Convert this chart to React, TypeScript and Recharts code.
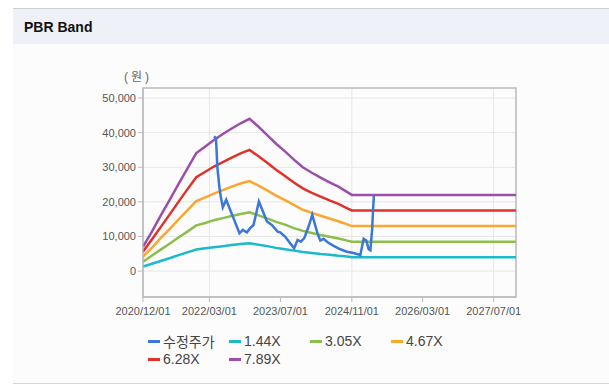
import { LineChart, Line, XAxis, YAxis, CartesianGrid, ReferenceArea } from "recharts";

// band dates (bimonthly until the BPS stops changing)
const bandDates = [
  "2020-12-01", "2021-02-01", "2021-04-01", "2021-06-01", "2021-08-01", "2021-10-01",
  "2021-12-01", "2022-02-01", "2022-04-01", "2022-06-01", "2022-08-01", "2022-10-01",
  "2022-12-01", "2023-02-01", "2023-04-01", "2023-06-01", "2023-08-01", "2023-10-01",
  "2023-12-01", "2024-02-01", "2024-04-01", "2024-06-01", "2024-08-01", "2024-10-01",
  "2024-11-01", "2027-12-01",
];

const band144 = [
  1300, 2100, 2900, 3700, 4600, 5400, 6200, 6600, 6900, 7200, 7500, 7800, 8000,
  7600, 7200, 6700, 6300, 5900, 5500, 5200, 4900, 4700, 4400, 4200, 4000, 4000,
];
const band305 = [
  2700, 4500, 6200, 7900, 9700, 11400, 13200, 13900, 14700, 15300, 15900, 16500, 17000,
  16100, 15200, 14200, 13400, 12400, 11600, 11000, 10400, 9900, 9400, 8800, 8500, 8500,
];
const band467 = [
  4200, 6800, 9500, 12100, 14900, 17500, 20200, 21300, 22400, 23400, 24400, 25300, 26000,
  24700, 23300, 21800, 20500, 19100, 17700, 16800, 16000, 15200, 14400, 13500, 13000, 13000,
];
const band628 = [
  5600, 9200, 12700, 16300, 20000, 23600, 27100, 28700, 30200, 31500, 32800, 34000, 35000,
  33200, 31300, 29300, 27500, 25600, 23900, 22600, 21500, 20400, 19400, 18100, 17500, 17500,
];
const band789 = [
  7000, 11500, 16000, 20500, 25100, 29600, 34100, 36000, 37900, 39600, 41200, 42700, 44000,
  41700, 39300, 36800, 34600, 32200, 30000, 28400, 27000, 25600, 24400, 22800, 22000, 22000,
];

// adjusted share price (수정주가)
const priceDates = [
  "2022-04-01", "2022-04-15", "2022-04-25", "2022-05-09", "2022-05-18", "2022-06-01",
  "2022-06-24", "2022-07-16", "2022-08-13", "2022-09-23", "2022-10-16", "2022-11-13",
  "2022-12-05", "2022-12-28", "2023-01-16", "2023-02-03", "2023-03-03", "2023-03-30",
  "2023-05-03", "2023-06-11", "2023-06-29", "2023-08-03", "2023-09-06", "2023-10-03",
  "2023-10-26", "2023-11-18", "2023-12-11", "2024-01-09", "2024-02-04", "2024-02-22",
  "2024-03-11", "2024-03-30", "2024-04-21", "2024-05-19", "2024-06-29", "2024-08-14",
  "2024-09-29", "2024-11-13", "2024-12-18", "2024-12-29", "2025-01-21", "2025-02-09",
  "2025-02-24", "2025-03-08", "2025-03-20", "2025-03-26", "2025-04-01",
];
const priceValues = [
  38900, 38400, 29800, 24000, 21500, 18400,
  20600, 18200, 15300, 10900, 11900, 11200,
  12400, 13300, 16700, 20100, 17200, 14300,
  13300, 11400, 11200, 9900, 8000, 6600,
  9000, 8500, 9500, 12800, 16300, 13500,
  10900, 8800, 9300, 8300, 7300, 6300,
  5600, 5200, 4800, 4600, 9300, 8800,
  6300, 6000, 11900, 17200, 21800,
];

const xTickDates = ["2020-12-01", "2022-03-01", "2023-07-01", "2024-11-01", "2026-03-01", "2027-07-01"];
const yTicks = [0, 10000, 20000, 30000, 40000, 50000];

const toTime = (s: string) => {
  const [y, m, d] = s.split("-").map(Number);
  return Date.UTC(y, m - 1, d);
};

const fmtDate = (t: number) => {
  const d = new Date(t);
  const mm = String(d.getUTCMonth() + 1).padStart(2, "0");
  const dd = String(d.getUTCDate()).padStart(2, "0");
  return `${d.getUTCFullYear()}/${mm}/${dd}`;
};

const toSeries = (dates: string[], values: number[]) =>
  dates.map((d, i) => ({ t: toTime(d), v: values[i] }));

const series = [
  { name: "수정주가", color: "#3a77d6", data: toSeries(priceDates, priceValues) },
  { name: "1.44X", color: "#1bb9cc", data: toSeries(bandDates, band144) },
  { name: "3.05X", color: "#8cbf4a", data: toSeries(bandDates, band305) },
  { name: "4.67X", color: "#fba62c", data: toSeries(bandDates, band467) },
  { name: "6.28X", color: "#e0322b", data: toSeries(bandDates, band628) },
  { name: "7.89X", color: "#9b4fa9", data: toSeries(bandDates, band789) },
];

const xStart = toTime("2020-12-01");
const xEnd = toTime("2027-12-01");
const yMin = -7500;
const yMax = 52900;

const font = '"Liberation Sans", Arial, "Noto Sans CJK KR", sans-serif';

export default function App() {
  return (
    <div style={{ position: "absolute", left: 0, top: 0, width: 609, height: 387, background: "#fff", fontFamily: font, overflow: "hidden" }}>
      {/* panel */}
      <div style={{ position: "absolute", left: 13, top: 8, width: 596, height: 374, background: "#fdfcfd", borderTop: "1px solid #cfcfcf", borderBottom: "1px solid #d4d4d4" }}>
        <div style={{ height: 35, background: "#eef1f7", display: "flex", alignItems: "center", paddingLeft: 11 }}>
          <span style={{ fontWeight: 700, fontSize: 14, color: "#111" }}>PBR Band</span>
        </div>
      </div>

      <div style={{ position: "absolute", left: 124, top: 67, fontSize: 12, color: "#666", letterSpacing: 3 }}>(원)</div>

      <div style={{ position: "absolute", left: 0, top: 0 }}>
        <LineChart width={609} height={387} margin={{ top: 88, right: 93, bottom: 70, left: 83 }}>
          <CartesianGrid stroke="#e6e6e6" strokeWidth={1} />
          <XAxis
            type="number"
            dataKey="t"
            domain={[xStart, xEnd]}
            ticks={xTickDates.map(toTime)}
            tickFormatter={fmtDate}
            allowDataOverflow
            height={20}
            tick={{ fill: "#555", fontSize: 11 }}
            tickLine={{ stroke: "#bbb" }}
            tickSize={5}
            tickMargin={5}
            axisLine={{ stroke: "#bbb" }}
          />
          <YAxis
            type="number"
            domain={[yMin, yMax]}
            ticks={yTicks}
            allowDataOverflow
            width={60}
            tickFormatter={(v: number) => v.toLocaleString("en-US")}
            tick={{ fill: "#555", fontSize: 11 }}
            tickLine={{ stroke: "#bbb" }}
            tickSize={5}
            axisLine={{ stroke: "#bbb" }}
          />
          <ReferenceArea x1={xStart} x2={xEnd} y1={yMin} y2={yMax} fill="none" stroke="#bdbdbd" strokeWidth={1.5} />
          {series.slice(1).map((s) => (
            <Line
              key={s.name}
              data={s.data}
              dataKey="v"
              type="linear"
              stroke={s.color}
              strokeWidth={2.5}
              dot={false}
              isAnimationActive={false}
            />
          ))}
          <Line
            data={series[0].data}
            dataKey="v"
            type="linear"
            stroke={series[0].color}
            strokeWidth={2.5}
            dot={false}
            isAnimationActive={false}
          />
        </LineChart>
      </div>

      {/* legend */}
      <div style={{ position: "absolute", left: 148, top: 332, width: 330, display: "flex", flexWrap: "wrap" }}>
        {series.map((s) => (
          <div key={s.name} style={{ width: 81, height: 18, display: "flex", alignItems: "center", fontSize: 14, color: "#444" }}>
            <span style={{ display: "inline-block", width: 12, height: 3, background: s.color, marginRight: 3 }} />
            <span>{s.name}</span>
          </div>
        ))}
      </div>
    </div>
  );
}
